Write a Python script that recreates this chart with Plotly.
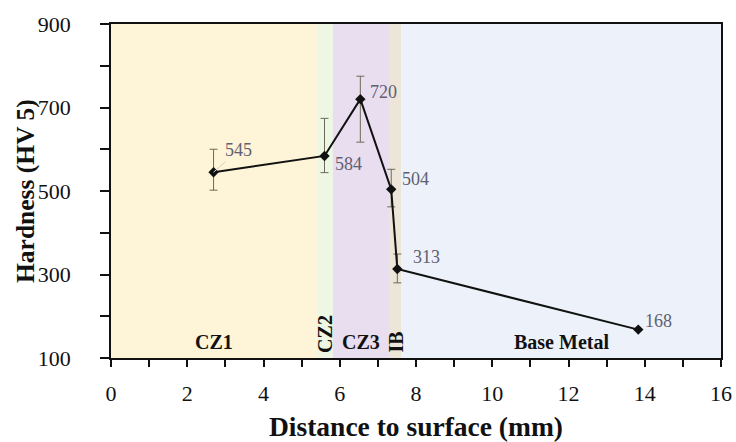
import plotly.graph_objects as go

# Data
distance_mm = [2.69, 5.60, 6.54, 7.35, 7.51, 13.83]
hardness_hv = [545, 584, 720, 504, 313, 168]
err_plus = [55, 90, 55, 48, 36, 0]
err_minus = [43, 40, 103, 42, 33, 0]

zone_names = ["CZ1", "CZ2", "CZ3", "IB", "Base Metal"]
zone_start = [0.0, 5.40, 5.82, 7.29, 7.61]
zone_end = [5.40, 5.82, 7.29, 7.61, 16.0]
zone_colors = ["#fef4d8", "#eef6e4", "#e9ddf0", "#ece5d8", "#edf1fa"]
zone_vertical = [False, True, False, True, False]

x_tickvals = list(range(0, 17))
x_ticktext = [str(v) if v % 2 == 0 else "" for v in x_tickvals]
y_tickvals = list(range(100, 901, 100))
y_ticktext = [str(v) if (v // 100) % 2 == 1 else "" for v in y_tickvals]

FONT = "Liberation Serif"

fig = go.Figure()

for name, s, e, c in zip(zone_names, zone_start, zone_end, zone_colors):
    fig.add_vrect(x0=s, x1=e, fillcolor=c, line_width=0, layer="below", opacity=1)

fig.add_trace(go.Scatter(
    x=distance_mm, y=hardness_hv, mode="lines+markers",
    line=dict(color="#111111", width=2),
    marker=dict(symbol="diamond", size=8, color="#111111"),
    error_y=dict(type="data", symmetric=False, array=err_plus, arrayminus=err_minus,
                 color="#6b6b55", thickness=1, width=4),
    showlegend=False,
))

# value labels
label_cfg = {
    0: dict(mode="arrow", ax=25, ay=-22),
    1: dict(xshift=8, yshift=-8),
    2: dict(xshift=8, yshift=7),
    3: dict(xshift=9, yshift=10),
    4: dict(xshift=14, yshift=12),
    5: dict(xshift=5, yshift=9),
}
LABEL_FONT = dict(family=FONT, size=18, color="#606070")
for i, (xv, yv) in enumerate(zip(distance_mm, hardness_hv)):
    cfg = label_cfg[i]
    if cfg.get("mode") == "arrow":
        fig.add_annotation(x=xv, y=yv, text=str(yv), showarrow=True, ax=cfg["ax"], ay=cfg["ay"],
                           arrowhead=0, arrowwidth=1, arrowcolor="#d8d0c0", standoff=0,
                           font=LABEL_FONT)
    else:
        fig.add_annotation(x=xv, y=yv, text=str(yv), showarrow=False, xanchor="left", yanchor="middle",
                           xshift=cfg["xshift"], yshift=cfg["yshift"], font=LABEL_FONT)

# zone labels
for name, s, e, vert in zip(zone_names, zone_start, zone_end, zone_vertical):
    fig.add_annotation(x=(s + e) / 2, y=100, text=f"<b>{name}</b>", showarrow=False,
                       xanchor="center", yanchor="bottom", yshift=3,
                       textangle=-90 if vert else 0,
                       font=dict(family=FONT, size=20, color="#111111"))

# y axis title placed as a rotated annotation
fig.add_annotation(x=0, y=0.5, xref="paper", yref="paper", xshift=-86,
                   text="<b>Hardness (HV 5)</b>", showarrow=False, textangle=-90,
                   xanchor="center", yanchor="middle",
                   font=dict(family=FONT, size=25.5, color="#111111"))

fig.update_layout(
    width=736, height=442,
    margin=dict(l=111, r=15, t=24, b=84, autoexpand=False),
    paper_bgcolor="white", plot_bgcolor="white",
    font=dict(family=FONT, size=22, color="#111111"),
)
fig.update_xaxes(
    range=[0, 16], tickvals=x_tickvals, ticktext=x_ticktext, automargin=False,
    showgrid=False, zeroline=False, showline=True, linecolor="#111111", linewidth=1.5, mirror=True,
    ticks="outside", ticklen=7, tickwidth=1.5, tickcolor="#111111", ticklabelstandoff=8,
    ticklabeloverflow="allow",
    tickfont=dict(family=FONT, size=22),
    title=dict(text="<b>Distance to surface (mm)</b>", font=dict(family=FONT, size=27.5), standoff=13),
)
fig.update_yaxes(
    range=[100, 900], tickvals=y_tickvals, ticktext=y_ticktext, automargin=False,
    showgrid=False, zeroline=False, showline=True, linecolor="#111111", linewidth=1.5, mirror=True,
    ticks="outside", ticklen=9, tickwidth=1.5, tickcolor="#111111", ticklabelstandoff=25,
    tickfont=dict(family=FONT, size=22),
)

fig.write_html("out.html", config={"displayModeBar": False},
               post_script="document.body.style.margin='0';document.body.style.overflow='hidden';")
